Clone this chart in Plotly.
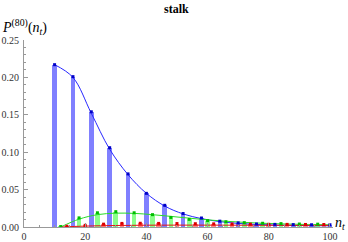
import plotly.graph_objects as go

# data
n_blue = [10, 16, 22, 28, 34, 40, 46, 52, 58, 64, 70, 76, 82, 88, 94, 100]
p_blue = [0.217, 0.201, 0.154, 0.106, 0.071, 0.045, 0.029, 0.018, 0.012, 0.0078,
          0.0055, 0.004, 0.0035, 0.0032, 0.003, 0.003]
n_green = [12, 18, 24, 30, 36, 42, 48, 54, 60, 66, 72, 78, 84, 90, 96]
p_green = [0.0006, 0.0122, 0.019, 0.0205, 0.019, 0.0165, 0.0128, 0.0102, 0.0085,
           0.007, 0.0058, 0.005, 0.0045, 0.004, 0.0038]
n_red = [14, 20, 26, 32, 38, 44, 50, 56, 62, 68, 74, 80, 86, 92, 98]
p_red = [0.001, 0.0022, 0.0038, 0.0048, 0.005, 0.0048, 0.0046, 0.0044, 0.0042,
         0.004, 0.0038, 0.0036, 0.0035, 0.0034, 0.0033]
# fitted curves (smooth lines)
n_blue_fit = n_blue
p_blue_fit = [0.217, 0.2, 0.152, 0.104, 0.07, 0.045, 0.028, 0.0175, 0.0112, 0.0072,
              0.0048, 0.0034, 0.0026, 0.0021, 0.0018, 0.0016]
n_green_fit = [12, 18, 24, 30, 36, 42, 48, 54, 60, 66, 72, 78, 84, 90, 96, 100]
p_green_fit = [0.0, 0.0105, 0.0165, 0.0185, 0.0182, 0.0165, 0.0142, 0.0118, 0.0095,
               0.0077, 0.0062, 0.005, 0.0042, 0.0036, 0.0032, 0.003]
n_red_fit = [12, 20, 30, 40, 50, 60, 70, 80, 90, 100]
p_red_fit = [0.0, 0.0012, 0.002, 0.0024, 0.0025, 0.0025, 0.0024, 0.0023, 0.0022, 0.0021]

serif = "Liberation Serif, Times New Roman, serif"
fig = go.Figure()

bw = 1.5
fig.add_trace(go.Bar(x=n_blue, y=p_blue, width=bw, marker=dict(color="rgb(128,128,255)", line=dict(width=0))))
fig.add_trace(go.Bar(x=n_green, y=p_green, width=bw, marker=dict(color="rgb(140,255,140)", line=dict(width=0))))
fig.add_trace(go.Bar(x=n_red, y=p_red, width=bw, marker=dict(color="rgb(255,140,140)", line=dict(width=0))))

fig.add_trace(go.Scatter(x=n_blue_fit, y=p_blue_fit, mode="lines", line=dict(color="rgb(40,40,255)", width=1, shape="spline")))
fig.add_trace(go.Scatter(x=n_green_fit, y=p_green_fit, mode="lines", line=dict(color="rgb(40,220,40)", width=1, shape="spline")))
fig.add_trace(go.Scatter(x=n_red_fit, y=p_red_fit, mode="lines", line=dict(color="rgb(230,20,20)", width=1, shape="spline")))

fig.add_trace(go.Scatter(x=n_blue, y=p_blue, mode="markers", marker=dict(symbol="square", size=3, color="rgb(0,0,200)")))
fig.add_trace(go.Scatter(x=n_green, y=p_green, mode="markers", marker=dict(symbol="square", size=3, color="rgb(0,190,0)")))
fig.add_trace(go.Scatter(x=n_red, y=p_red, mode="markers", marker=dict(symbol="square", size=3, color="rgb(220,0,0)")))

axis_common = dict(showgrid=False, zeroline=False, showline=True, linecolor="#999999",
                   linewidth=1, ticks="inside", tickcolor="#999999", ticklen=4,
                   automargin=False,
                   tickfont=dict(family=serif, size=10, color="#333333"))

fig.update_layout(
    width=348, height=242,
    margin=dict(l=24, r=15, t=40, b=15),
    plot_bgcolor="white", paper_bgcolor="white",
    showlegend=False, barmode="overlay", bargap=0,
    title=dict(text="<b>stalk</b>", x=0.507, xanchor="center", y=0.965, yanchor="middle",
               font=dict(family=serif, size=12, color="black")),
    xaxis=dict(range=[0, 101], tickvals=[0, 20, 40, 60, 80, 100],
               minor=dict(dtick=5, tick0=0, ticks="inside", ticklen=2, tickcolor="#999999"),
               **axis_common),
    yaxis=dict(range=[0, 0.25], tickvals=[0, 0.05, 0.10, 0.15, 0.20, 0.25],
               ticktext=["0.00", "0.05", "0.10", "0.15", "0.20", "0.25"],
               ticklabelstandoff=2,
               minor=dict(dtick=0.01, tick0=0, ticks="inside", ticklen=2, tickcolor="#999999"),
               **axis_common),
)

fig.add_annotation(xref="paper", yref="paper", x=-24/309, y=1.0 + 13/187, xanchor="left", yanchor="middle",
                   text="<i>P</i><sup>(80)</sup>(<i>n</i><sub><i>t</i></sub>)", showarrow=False,
                   font=dict(family=serif, size=14, color="black"))
fig.add_annotation(xref="paper", yref="paper", x=1.0, y=0.02, xanchor="left", yanchor="middle",
                   text="<i>n</i><sub><i>t</i></sub>", showarrow=False,
                   font=dict(family=serif, size=14, color="black"))

fig.write_html("out.html", config={"displayModeBar": False},
               post_script="document.body.style.margin='0';document.body.style.overflow='hidden';")
